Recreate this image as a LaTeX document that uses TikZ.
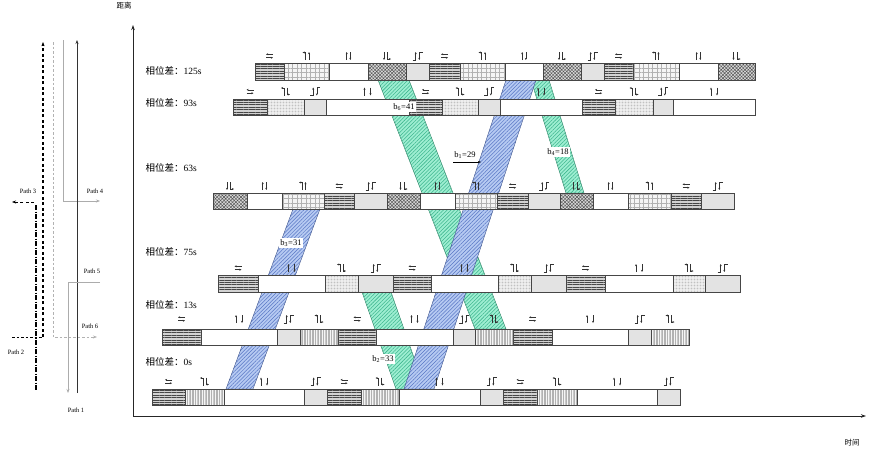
\documentclass[tikz,border=0pt]{standalone}
\usepackage{fontspec}
\setmainfont{Liberation Serif}
\newfontfamily\cjk{Noto Sans CJK SC}
\usetikzlibrary{arrows.meta,patterns.meta}

\definecolor{bandgreen}{RGB}{158,238,210}
\definecolor{hatchgreen}{RGB}{62,182,142}
\definecolor{bandblue}{RGB}{182,202,242}
\definecolor{hatchblue}{RGB}{88,118,196}

\tikzset{
  seg/.style={draw=gray!55!black, line width=0.7pt},
  hlseg/.style={seg, preaction={fill=gray!35}, pattern={Lines[angle=0,distance=2.4pt,line width=0.5pt]}, pattern color=gray!55!black},
  gridseg/.style={seg, preaction={fill=gray!8}, pattern={Hatch[angle=0,distance=4.5pt,line width=0.4pt]}, pattern color=gray!60},
  crossseg/.style={seg, preaction={fill=gray!30}, pattern={Hatch[angle=45,distance=2.4pt,line width=0.45pt]}, pattern color=gray!65!black},
  dotseg/.style={seg, preaction={fill=gray!8}, pattern={Dots[distance=1.5pt,radius=0.35pt]}, pattern color=gray!70},
  vlseg/.style={seg, preaction={fill=gray!8}, pattern={Lines[angle=90,distance=1.6pt,line width=0.3pt]}, pattern color=gray!60},
  grayseg/.style={seg, fill=gray!22},
  whiteseg/.style={seg, fill=white},
  greenband/.style={draw=hatchgreen!70!black, line width=0.4pt, preaction={fill=bandgreen}, pattern={Lines[angle=45,distance=2.6pt,line width=0.55pt]}, pattern color=hatchgreen},
  blueband/.style={draw=hatchblue!70!black, line width=0.4pt, preaction={fill=bandblue}, pattern={Lines[angle=45,distance=2.6pt,line width=0.5pt]}, pattern color=hatchblue},
  blab/.style={fill=white, inner sep=1pt, font=\fontsize{8.5}{9}\selectfont},
  rowlab/.style={anchor=west, font=\fontsize{9.5}{11}\selectfont},
  plab/.style={font=\fontsize{6.5}{7}\selectfont},
  axis/.style={line width=1pt, draw=gray!30!black, -{Stealth[length=5pt,width=3.5pt]}},
  sa/.style={line width=0.6pt, draw=black!80, -{Stealth[length=2.2pt,width=2pt]}},
  pics/phew/.style={code={\draw[sa] (3.5,-1.7) -- (-3.5,-1.7); \draw[sa] (-3.5,1.7) -- (3.5,1.7);}},
  pics/phlt/.style={code={\draw[sa] (-1,4) -- (-1,-3.5) -- (-4,-3.5); \draw[sa] (2.5,4) -- (2.5,-4);}},
  pics/phns/.style={code={\draw[sa] (-1.8,4) -- (-1.8,-4); \draw[sa] (1.8,-4) -- (1.8,4);}},
  pics/phnsw/.style={code={\draw[sa] (-3,4) -- (-3,-4); \draw[sa] (3,-4) -- (3,4);}},
  pics/phsl/.style={code={\draw[sa] (-3,-4) -- (-3,4); \draw[sa] (0.5,-4) -- (0.5,3) -- (4,3);}},
  pics/phrt/.style={code={\draw[sa] (-5,4) -- (-1.8,4) -- (-1.8,-4); \draw[sa] (5,-4) -- (1.8,-4) -- (1.8,4);}},
  pics/phlr/.style={code={\draw[sa] (-1.5,4) -- (-1.5,-3.5) -- (-4.5,-3.5); \draw[sa] (1.5,-4) -- (1.5,3) -- (4.5,3);}},
}

\begin{document}
\begin{tikzpicture}[x=1pt,y=-1pt]
  \useasboundingbox (0,0) rectangle (872,455);

  % left: the six paths
  \draw[line width=1.2pt, dash pattern=on 3pt off 2.5pt, -{Stealth[length=4pt,width=3pt]}] (43,337) -- (43,42);
  \draw[line width=1pt, dash pattern=on 3pt off 2.5pt, -{Stealth[length=4pt,width=3pt]}] (34,202) -- (12,202);
  \draw[line width=1.1pt, dash pattern=on 5pt off 1.5pt on 1pt off 1.5pt] (36,205) -- (36,390);
  \draw[line width=0.6pt, dash pattern=on 2.5pt off 2pt] (12,337) -- (43,337);
  \draw[gray!60, line width=0.7pt, dash pattern=on 2.5pt off 2pt, -{Stealth[length=4pt,width=3pt]}] (53,42) -- (53,337) -- (97,337);
  \draw[gray!65, line width=0.8pt, -{Stealth[length=4pt,width=3pt]}] (63,40) -- (63,201) -- (100,201);
  \draw[gray!40!black, line width=1pt, -{Stealth[length=4pt,width=3pt]}] (77,393) -- (77,40);
  \draw[gray!65, line width=0.8pt, -{Stealth[length=4pt,width=3pt]}] (100,282) -- (68,282) -- (68,393);
  \node[plab] (path3) at (28,191) {Path 3};
  \node[plab] (path4) at (95,191) {Path 4};
  \node[plab] (path5) at (92,271) {Path 5};
  \node[plab] (path6) at (90,326) {Path 6};
  \node[plab] (path2) at (16,352) {Path 2};
  \node[plab] (path1) at (76,410) {Path 1};

  % axes
  \coordinate (o) at (133,416);
  \coordinate (ytop) at (133,25);
  \coordinate (xend) at (866,416);
  \draw[axis] (o) -- (ytop);
  \draw[axis] (o) -- (xend);
  \node[font=\cjk\fontsize{7.5}{8}\selectfont] (dist) at (124,6) {距离};
  \node[font=\cjk\fontsize{7.5}{8}\selectfont] (time) at (852,443) {时间};

  % green bands
  \draw[greenband] (378,80) -- (409,80) -- (506,329) -- (475,329) -- cycle;
  \draw[greenband] (531,80) -- (549,80) -- (584,193) -- (566,193) -- cycle;
  \draw[greenband] (362,292) -- (391,292) -- (425,389) -- (396,389) -- cycle;
  % blue bands
  \draw[blueband] (226,389) -- (253,389) -- (320,209) -- (293,209) -- cycle;
  \draw[blueband] (404,389) -- (434,389) -- (536,80) -- (506,80) -- cycle;

  % phase bars
  \node[rowlab] (ph125) at (142,71) {{\cjk 相位差：}125s};
  \foreach \a/\b/\s/\p in {255/284/hlseg/phew, 284/329/gridseg/phlt, 329/368/whiteseg/phns, 368/406/crossseg/phsl, 406/429/grayseg/phrt,
    429/460/hlseg/phew, 460/505/gridseg/phlt, 505/543/whiteseg/phns, 543/581/crossseg/phsl, 581/604/grayseg/phrt,
    604/633/hlseg/phew, 633/679/gridseg/phlt, 679/718/whiteseg/phns, 718/755/crossseg/phsl}
  {\draw[\s] (\a,63) rectangle (\b,80); \pic at ({(\a+\b)/2},56) {\p};}

  \node[rowlab] (ph93) at (142,103) {{\cjk 相位差：}93s};
  \foreach \a/\b/\s/\p in {233/267/hlseg/phew, 267/304/dotseg/phlr, 304/326/grayseg/phrt, 326/409/whiteseg/phnsw,
    409/442/hlseg/phew, 442/478/dotseg/phlr, 478/500/grayseg/phrt, 500/582/whiteseg/phnsw,
    582/615/hlseg/phew, 615/653/dotseg/phlr, 653/673/grayseg/phrt, 673/755/whiteseg/phnsw}
  {\draw[\s] (\a,99) rectangle (\b,115); \pic at ({(\a+\b)/2},91.5) {\p};}

  \node[rowlab] (ph63) at (142,168) {{\cjk 相位差：}63s};
  \foreach \a/\b/\s/\p in {213/247/crossseg/phsl, 247/282/whiteseg/phns, 282/324/gridseg/phlt, 324/354/hlseg/phew, 354/387/grayseg/phrt,
    387/420/crossseg/phsl, 420/455/whiteseg/phns, 455/497/gridseg/phlt, 497/528/hlseg/phew, 528/560/grayseg/phrt,
    560/593/crossseg/phsl, 593/628/whiteseg/phns, 628/671/gridseg/phlt, 671/701/hlseg/phew, 701/734/grayseg/phrt}
  {\draw[\s] (\a,193) rectangle (\b,209); \pic at ({(\a+\b)/2},186) {\p};}

  \node[rowlab] (ph75) at (142,252) {{\cjk 相位差：}75s};
  \foreach \a/\b/\s/\p in {218/258/hlseg/phew, 258/325/whiteseg/phnsw, 325/358/dotseg/phlr, 358/393/grayseg/phrt,
    393/431/hlseg/phew, 431/498/whiteseg/phnsw, 498/531/dotseg/phlr, 531/566/grayseg/phrt,
    566/605/hlseg/phew, 605/673/whiteseg/phnsw, 673/705/dotseg/phlr, 705/740/grayseg/phrt}
  {\draw[\s] (\a,275) rectangle (\b,292); \pic at ({(\a+\b)/2},268) {\p};}

  \node[rowlab] (ph13) at (142,305) {{\cjk 相位差：}13s};
  \foreach \a/\b/\s/\p in {162/201/hlseg/phew, 201/277/whiteseg/phnsw, 277/300/grayseg/phrt, 300/338/vlseg/phlr,
    338/376/hlseg/phew, 376/453/whiteseg/phnsw, 453/475/grayseg/phrt, 475/513/vlseg/phlr,
    513/552/hlseg/phew, 552/628/whiteseg/phnsw, 628/651/grayseg/phrt, 651/689/vlseg/phlr}
  {\draw[\s] (\a,329) rectangle (\b,345); \pic at ({(\a+\b)/2},319) {\p};}

  \node[rowlab] (ph0) at (142,362) {{\cjk 相位差：}0s};
  \foreach \a/\b/\s/\p in {152/185/hlseg/phew, 185/224/vlseg/phlr, 224/304/whiteseg/phnsw, 304/327/grayseg/phrt,
    327/361/hlseg/phew, 361/399/vlseg/phlr, 399/480/whiteseg/phnsw, 480/503/grayseg/phrt,
    503/537/hlseg/phew, 537/577/vlseg/phlr, 577/657/whiteseg/phnsw, 657/680/grayseg/phrt}
  {\draw[\s] (\a,389) rectangle (\b,405); \pic at ({(\a+\b)/2},381.5) {\p};}

  % band widths
  \node[blab] (b6) at (404,107) {b\textsubscript{6}=41};
  \node[blab] (b1) at (465,155) {b\textsubscript{1}=29};
  \node[blab] (b4) at (558,152) {b\textsubscript{4}=18};
  \node[blab] (b3) at (291,243) {b\textsubscript{3}=31};
  \node[blab] (b2) at (383,359) {b\textsubscript{2}=33};
  \coordinate (b1s) at (453,162);
  \coordinate (b1e) at (481,162);
  \draw[line width=0.4pt, -{Stealth[length=3pt,width=2pt]}] (b1s) -- (b1e);
\end{tikzpicture}
\end{document}
